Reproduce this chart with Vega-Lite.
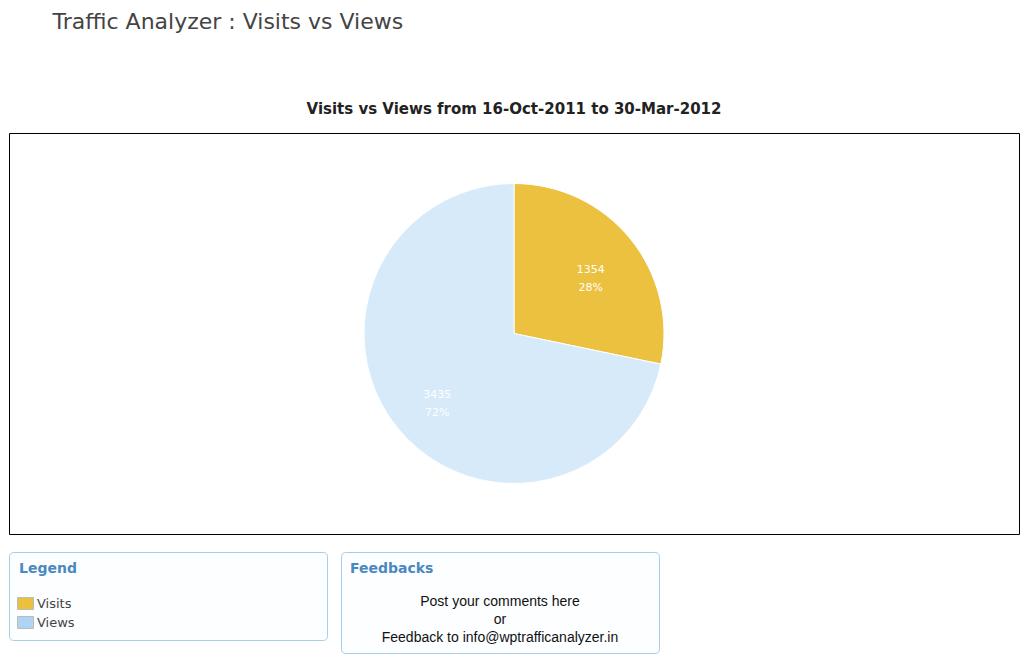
{
  "$schema": "https://vega.github.io/schema/vega-lite/v6.json",
  "background": "white",
  "padding": {"top": 10, "left": 8, "right": 8, "bottom": 4},
  "config": {"font": "DejaVu Sans", "view": {"stroke": null}},
  "title": {"text": "Traffic Analyzer : Visits vs Views", "anchor": "start", "dx": 44, "fontSize": 22, "fontWeight": "normal", "color": "#444444", "font": "DejaVu Sans", "offset": 68},
  "datasets": {
    "traffic": [
      {"series": "Visits", "count": 1354, "pct": "28%"},
      {"series": "Views", "count": 3435, "pct": "72%"}
    ],
    "feedback": [
      {"line": "Post your comments here"},
      {"line": "or"},
      {"line": "Feedback to info@wptrafficanalyzer.in"}
    ]
  },
  "spacing": 16,
  "resolve": {"scale": {"color": "independent"}, "legend": {"color": "independent"}},
  "vconcat": [
    {
      "width": 1010,
      "height": 401,
      "view": {"stroke": "#000000", "strokeWidth": 1},
      "title": {"text": "Visits vs Views from 16-Oct-2011 to 30-Mar-2012", "fontSize": 15, "fontWeight": "bold", "color": "#222222", "font": "DejaVu Sans", "offset": 16},
      "data": {"name": "traffic"},
      "encoding": {
        "theta": {"field": "count", "type": "quantitative", "stack": true},
        "order": {"field": "count", "type": "quantitative", "sort": "ascending"},
        "detail": {"field": "series", "type": "nominal"}
      },
      "layer": [
        {
          "mark": {"type": "arc", "outerRadius": 150, "stroke": "#ffffff", "strokeWidth": 1},
          "encoding": {
            "color": {"field": "series", "type": "nominal", "scale": {"domain": ["Visits", "Views"], "range": ["#EBC13F", "#D6EAFA"]}, "legend": null}
          }
        },
        {
          "mark": {"type": "text", "radius": 99, "dy": -1, "fill": "#ffffff", "fontSize": 11, "font": "DejaVu Sans"},
          "encoding": {"text": {"field": "count", "type": "quantitative", "format": "d"}}
        },
        {
          "mark": {"type": "text", "radius": 99, "dy": 17, "fill": "#ffffff", "fontSize": 11, "font": "DejaVu Sans"},
          "encoding": {"text": {"field": "pct", "type": "nominal"}}
        }
      ]
    },
    {
      "spacing": 12,
      "resolve": {"scale": {"color": "independent"}, "legend": {"color": "independent"}},
      "hconcat": [
        {
          "width": 318,
          "height": 88,
          "view": {"stroke": "#A8CDE9", "strokeWidth": 1, "cornerRadius": 4, "fill": "#FCFEFF"},
          "data": {"name": "traffic"},
          "mark": {"type": "square", "size": 0},
          "encoding": {
            "color": {
              "field": "series", "type": "nominal",
              "scale": {"domain": ["Visits", "Views"], "range": ["#EBC03F", "#AFD4F3"]},
              "legend": {"title": "Legend", "orient": "top-left", "offset": 10, "titleFontSize": 14, "titleFontWeight": "bold", "titleColor": "#4A88C0", "titleFont": "DejaVu Sans", "titlePadding": 21, "symbolType": "M-1.33,-1H1.33V1H-1.33Z", "symbolSize": 144, "symbolStrokeColor": "#BBBBBB", "symbolStrokeWidth": 1, "symbolOpacity": 1, "labelFontSize": 13, "labelColor": "#444444", "labelFont": "DejaVu Sans", "rowPadding": 2, "labelOffset": 5}
            }
          }
        },
        {
          "width": 318,
          "height": 101,
          "view": {"stroke": "#A8CDE9", "strokeWidth": 1, "cornerRadius": 4, "fill": "#FCFEFF"},
          "title": {"text": "Feedbacks", "anchor": "start", "dx": 9, "offset": -24, "fontSize": 14, "fontWeight": "bold", "color": "#4A88C0", "font": "DejaVu Sans"},
          "data": {"name": "feedback"},
          "mark": {"type": "text", "font": "Liberation Sans", "fontSize": 14, "fill": "#111111"},
          "encoding": {
            "y": {"field": "line", "type": "ordinal", "sort": null, "axis": null, "scale": {"type": "point", "range": [50, 86], "padding": 0}},
            "text": {"field": "line", "type": "nominal"}
          }
        }
      ]
    }
  ]
}
